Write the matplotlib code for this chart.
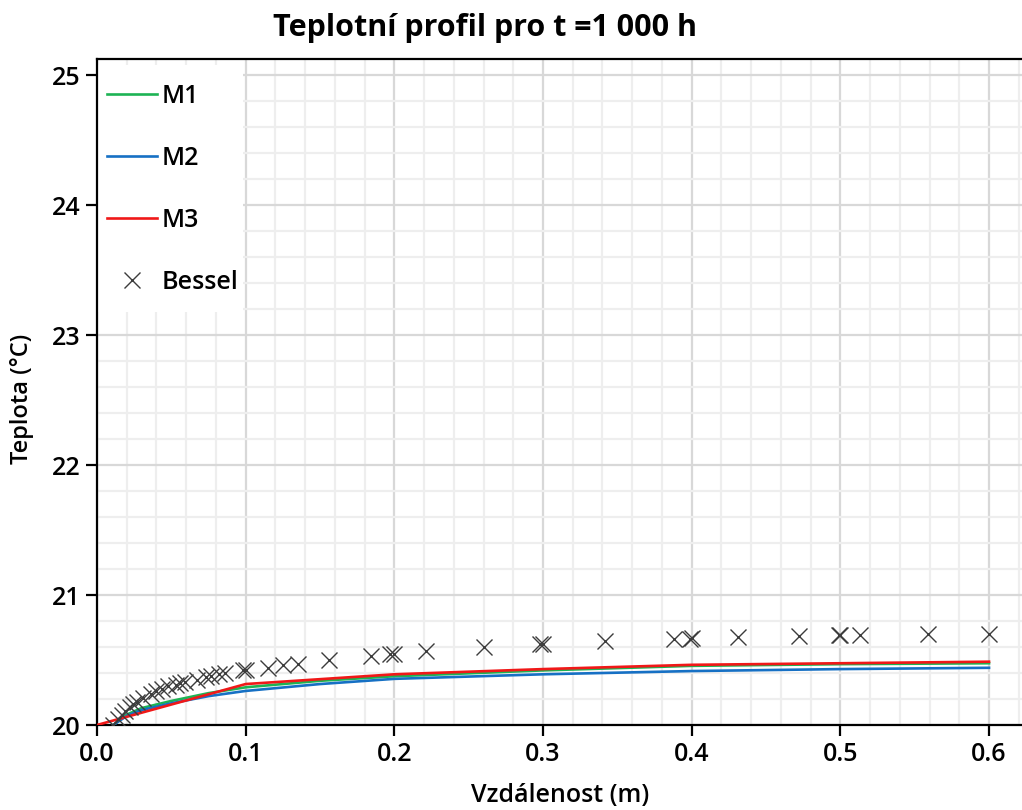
import numpy as np
import matplotlib.pyplot as plt
from matplotlib.patches import Rectangle
from matplotlib.ticker import MultipleLocator

plt.rcParams['font.family'] = ['Open Sans', 'DejaVu Sans']

# Teplotní profil - tři modely a analytické řešení (Bessel)
x_m1 = [0.011, 0.02, 0.03, 0.05, 0.075, 0.1, 0.15, 0.2, 0.3, 0.4, 0.5, 0.6]
t_m1 = [20.0, 20.08, 20.13, 20.185, 20.245, 20.29, 20.34, 20.375, 20.42, 20.455, 20.468, 20.475]

x_m2 = [0.011, 0.02, 0.03, 0.05, 0.075, 0.1, 0.15, 0.2, 0.3, 0.4, 0.5, 0.6]
t_m2 = [20.0, 20.07, 20.115, 20.167, 20.222, 20.262, 20.315, 20.355, 20.39, 20.415, 20.43, 20.44]

x_m3 = [0.0, 0.1, 0.2, 0.3, 0.4, 0.5, 0.6]
t_m3 = [20.0, 20.315, 20.39, 20.43, 20.463, 20.475, 20.487]

x_bessel = [0.011, 0.014, 0.017, 0.019, 0.022, 0.024, 0.027, 0.031, 0.036, 0.040,
            0.044, 0.048, 0.053, 0.056, 0.059, 0.067, 0.073, 0.077, 0.082, 0.086,
            0.098, 0.100, 0.115, 0.125, 0.135, 0.156, 0.184, 0.197, 0.200, 0.221,
            0.260, 0.298, 0.300, 0.342, 0.388, 0.399, 0.400, 0.431, 0.472, 0.499,
            0.500, 0.513, 0.559, 0.600]
t_bessel = [20.00, 20.05, 20.08, 20.11, 20.14, 20.16, 20.18, 20.21, 20.24, 20.26,
            20.28, 20.30, 20.31, 20.32, 20.33, 20.35, 20.37, 20.38, 20.39, 20.40,
            20.42, 20.42, 20.44, 20.46, 20.47, 20.50, 20.53, 20.55, 20.55, 20.57,
            20.60, 20.62, 20.62, 20.645, 20.665, 20.665, 20.67, 20.675, 20.685, 20.695,
            20.695, 20.695, 20.70, 20.70]

fig = plt.figure(figsize=(10.22, 8.1), dpi=100)
ax = fig.add_axes([97 / 1022, 1 - 725 / 810, 1 - 97 / 1022, (725 - 59) / 810])

ax.plot(x_m1, t_m1, color='#1db354', lw=1.9, label='M1', zorder=3)
ax.plot(x_m2, t_m2, color='#1670c4', lw=1.9, label='M2', zorder=3)
ax.plot(x_m3, t_m3, color='#f01818', lw=1.9, label='M3', zorder=4)
ax.plot(x_bessel, t_bessel, ls='none', marker='x', ms=11, mew=1.0,
        color='#3c3c3c', label='Bessel', zorder=5)

ax.set_xlim(0, (1022 - 97) / 1486.7)
ax.set_ylim(20, 20 + (725 - 59) / 130)

ax.xaxis.set_major_locator(MultipleLocator(0.1))
ax.xaxis.set_minor_locator(MultipleLocator(0.02))
ax.yaxis.set_major_locator(MultipleLocator(1))
ax.yaxis.set_minor_locator(MultipleLocator(0.2))
ax.set_xticks(np.arange(0, 0.61, 0.1))
ax.set_xticklabels(['0.0', '0.1', '0.2', '0.3', '0.4', '0.5', '0.6'])

ax.grid(True, which='major', color='#d8d8d8', lw=1.6)
ax.grid(True, which='minor', color='#eeeeee', lw=1.6)
ax.set_axisbelow(True)

for side in ['left', 'bottom', 'top']:
    ax.spines[side].set_linewidth(1.6)
    ax.spines[side].set_color('black')
ax.spines['right'].set_visible(False)

ax.tick_params(which='major', direction='out', length=8, width=1.6,
               labelsize=18, pad=4)
ax.tick_params(which='minor', length=0)
for lbl in ax.get_xticklabels() + ax.get_yticklabels():
    lbl.set_fontweight('semibold')

# bílé pozadí legendy
ax.add_patch(Rectangle((0, 1 - (312 - 59) / 666), (243 - 97) / 925, (312 - 65) / 666,
                       transform=ax.transAxes, facecolor='white', edgecolor='none',
                       zorder=1))

ax.legend(loc='upper left', bbox_to_anchor=(0, 1 - (74 - 59) / 666),
          borderaxespad=0, borderpad=0.4, labelspacing=1.48,
          handlelength=2.0, handletextpad=0.2, frameon=False,
          prop={'size': 18, 'weight': 'semibold'})

fig.text(485 / 1022, 1 - 28 / 810, 'Teplotní profil pro t =1 000 h',
         ha='center', va='center', fontsize=22, fontweight='bold')
fig.text(560 / 1022, 1 - 796 / 810, 'Vzdálenost (m)',
         ha='center', va='center', fontsize=18, fontweight='semibold')
fig.text(22 / 1022, 1 - 399 / 810, 'Teplota (°C)', rotation=90,
         ha='center', va='center', fontsize=17, fontweight='semibold')

fig.savefig('out.png', dpi=100)
